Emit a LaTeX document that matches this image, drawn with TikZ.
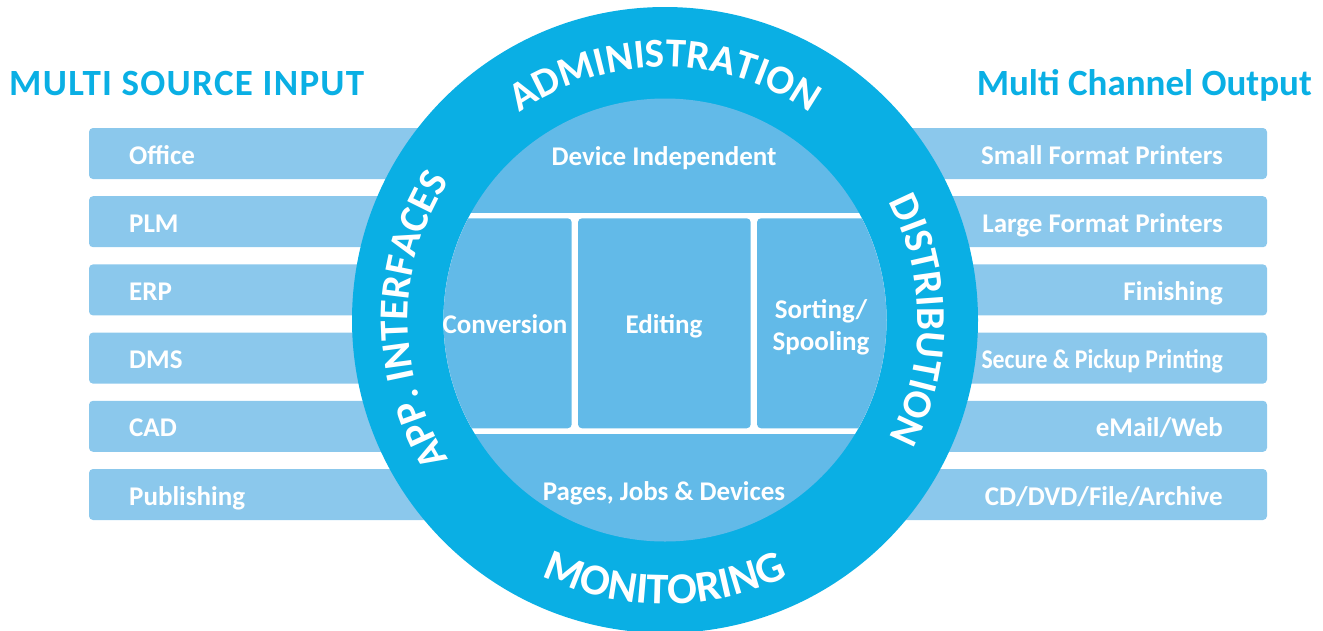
\documentclass[tikz,border=0pt]{standalone}
\usepackage{fontspec}
\setmainfont{Carlito}
\usetikzlibrary{decorations.text}
\definecolor{ringblue}{RGB}{10,175,228}
\definecolor{innerblue}{RGB}{98,186,232}
\definecolor{boxblue}{RGB}{139,200,236}
\newcommand\ringfont{\fontsize{41}{48}\selectfont\bfseries}
\newcommand\ringfontb{\fontsize{44}{50}\selectfont\bfseries}
\begin{document}
\begin{tikzpicture}[x=1pt,y=1pt,
  sidebox/.style={fill=boxblue, rounded corners=4pt},
  cellbox/.style={fill=innerblue, rounded corners=4pt},
  wlabel/.style={text=white, font=\fontsize{27}{31}\selectfont\bfseries, inner sep=0pt},
  title/.style={text=ringblue, font=\fontsize{37}{42}\selectfont\bfseries, inner sep=0pt},
  ringtext/.style={decorate, decoration={text along path, text align=center, text color=white, text={|\ringfont|#1}}},
  ringtextb/.style={decorate, decoration={text along path, text align=center, text color=white, text={|\ringfontb|#1}}}]
\useasboundingbox (0,0) rectangle (1323,-630);
\coordinate (C) at (665,-320);

% side boxes
\foreach \i/\t in {0/Office,1/PLM,2/ERP,3/DMS,4/CAD,5/Publishing}{
  \fill[sidebox] (89,{-128-68.2*\i}) rectangle (700,{-179-68.2*\i});
  \node[wlabel, anchor=base west] (L\i) at (129,{-164-68.2*\i}) {\t};
}
\foreach \i/\t in {0/{Small Format Printers},1/{Large Format Printers},2/{Finishing},3/{\scalebox{0.88}[1]{Secure \& Pickup Printing}},4/{eMail/Web},5/{CD/DVD/File/Archive}}{
  \fill[sidebox] (630,{-128-68.2*\i}) rectangle (1267,{-179-68.2*\i});
  \node[wlabel, anchor=base east] (R\i) at (1223,{-164-68.2*\i}) {\t};
}

% titles
\node[title, anchor=base west] (tin) at (9,-95) {\addfontfeature{LetterSpace=3.5}MULTI SOURCE INPUT};
\node[title, anchor=base east] (tout) at (1312,-95) {Multi Channel Output};

% ring and inner disc
\fill[ringblue] (C) circle[radius=313];
\fill[innerblue] (C) circle[radius=221.5];
\begin{scope}
  \clip (C) circle[radius=221.5];
  \fill[white] (400,-212.7) rectangle (930,-434.3);
  \fill[cellbox] (420,-218.3) rectangle (571.7,-428.3);
  \fill[cellbox] (578,-218.3) rectangle (750.7,-428.3);
  \fill[cellbox] (757,-218.3) rectangle (910,-428.3);
\end{scope}

% inner labels
\node[wlabel, anchor=base] (dev) at (664,-165) {Device Independent};
\node[wlabel, anchor=base] (pag) at (664,-500) {Pages, Jobs \& Devices};
\node[wlabel, anchor=base] (conv) at (505,-333.5) {Conversion};
\node[wlabel, anchor=base] (edit) at (664,-333.5) {Editing};
\node[wlabel, anchor=base] (sort) at (821,-318) {Sorting/};
\node[wlabel, anchor=base] (spool) at (821,-350.5) {Spooling};

% ring labels
\path[shift={(665,-320)}, ringtext=ADMINISTRATION] (150:253) arc[start angle=150, end angle=30, radius=253];
\path[shift={(665,-320)}, ringtextb=MONITORING] (210:284) arc[start angle=210, end angle=330, radius=284];
\path[shift={(665,-320)}, ringtext={APP. INTERFACES}] (240:257) arc[start angle=240, end angle=120, radius=257];
\path[shift={(665,-320)}, ringtext=DISTRIBUTION] (60:253) arc[start angle=60, end angle=-60, radius=253];
\end{tikzpicture}
\end{document}
